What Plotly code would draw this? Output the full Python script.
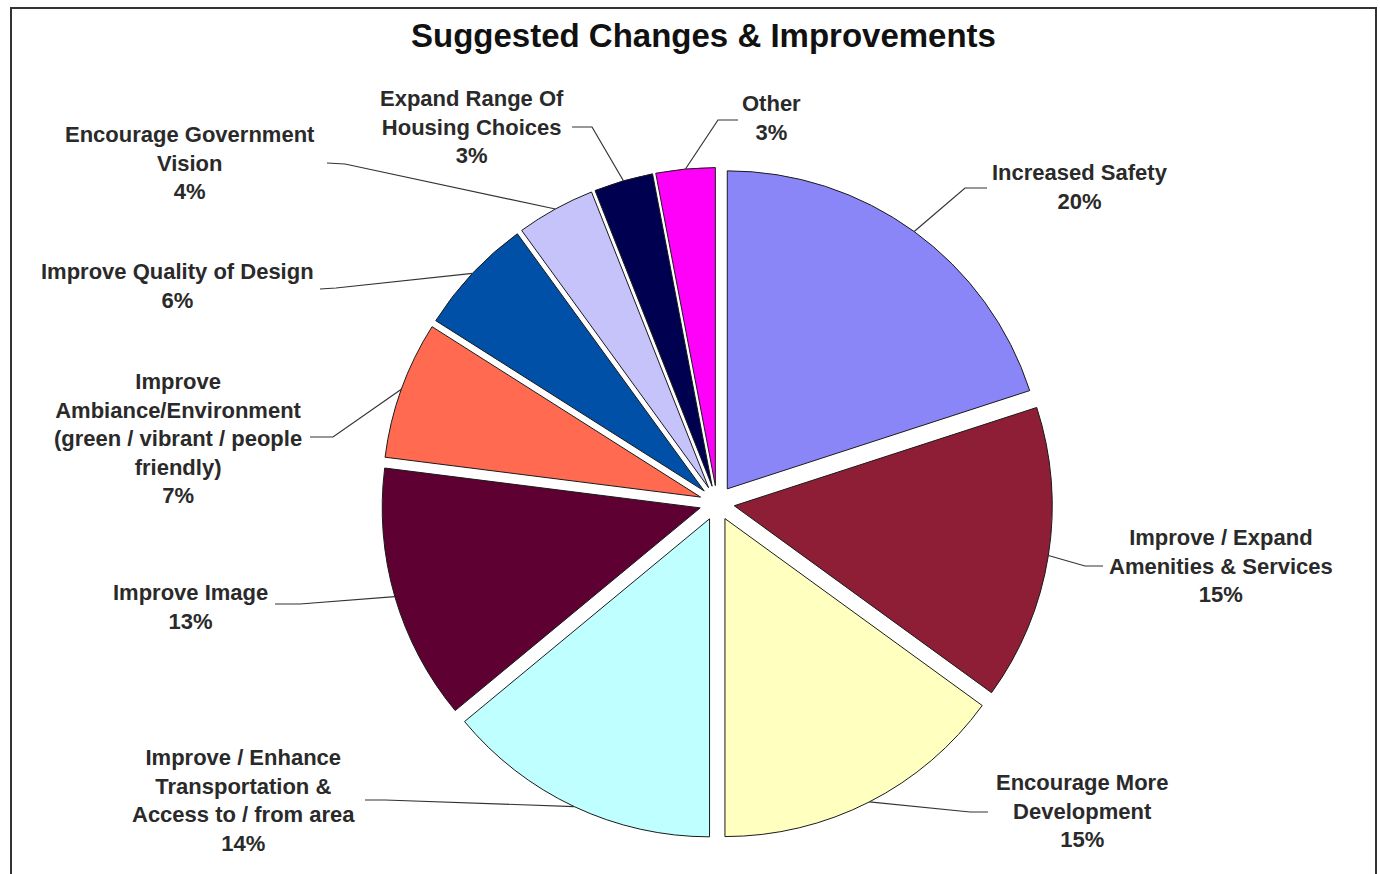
import math
import plotly.graph_objects as go

# Survey responses: suggested changes & improvements (percent of responses)
categories = [
    "Increased Safety",
    "Improve / Expand Amenities & Services",
    "Encourage More Development",
    "Improve / Enhance Transportation & Access to / from area",
    "Improve Image",
    "Improve Ambiance/Environment (green / vibrant / people friendly)",
    "Improve Quality of Design",
    "Encourage Government Vision",
    "Expand Range Of Housing Choices",
    "Other",
]
values = [20, 15, 15, 14, 13, 7, 6, 4, 3, 3]

# Wrapped label lines as printed next to each slice
label_lines = [
    ["Increased Safety"],
    ["Improve / Expand", "Amenities & Services"],
    ["Encourage More", "Development"],
    ["Improve / Enhance", "Transportation &", "Access to / from area"],
    ["Improve Image"],
    ["Improve", "Ambiance/Environment", "(green / vibrant / people", "friendly)"],
    ["Improve Quality of Design"],
    ["Encourage Government", "Vision"],
    ["Expand Range Of", "Housing Choices"],
    ["Other"],
]

colors = [
    "#8a86f8", "#8e1e36", "#ffffc0", "#c0ffff", "#5e0032",
    "#ff6a50", "#0050a8", "#c6c2fa", "#000050", "#ff00f8",
]

W, H = 1380, 874
PULL = 0.055

# Pie box in pixels (square), centre and radius follow plotly's pie scaling
box_l, box_r = 381.5, 1052.5
box_t, box_b = 167.5, 838.5
cx = (box_l + box_r) / 2
cy = (box_t + box_b) / 2
radius = (box_r - box_l) / (2 + 2 * PULL)

# Label placement: (centre x, centre y of text block, leader elbow, leader end at text)
label_layout = [
    (1080, 187, (965, 188), (987, 188)),
    (1221, 566, (1085, 566), (1103, 566)),
    (1082, 811, (970, 812), (988, 812)),
    (243, 800, (385, 800), (365, 800)),
    (190, 607, (300, 604), (275, 604)),
    (178, 438, (333, 437), (310, 437)),
    (177, 286, (336, 288), (320, 289)),
    (190, 163, (345, 164), (327, 163)),
    (472, 127, (592, 127), (572, 127)),
    (771, 118, (718, 120), (738, 120)),
]


def px(x):
    return x / W


def py(y):
    return 1 - y / H


fig = go.Figure(
    go.Pie(
        labels=categories,
        values=values,
        sort=False,
        direction="clockwise",
        rotation=0,
        pull=[PULL] * len(values),
        marker=dict(colors=colors, line=dict(color="#1a1a1a", width=1)),
        textinfo="none",
        hoverinfo="label+percent",
        showlegend=False,
        domain=dict(x=[px(box_l), px(box_r)], y=[py(box_b), py(box_t)]),
    )
)

total = sum(values)
annotations = []
shapes = []
cum = 0.0
for v, lines, (lx, ly, elbow, tip) in zip(values, label_lines, label_layout):
    mid = (cum + v / 2) / total * 2 * math.pi
    cum += v
    # point on the outer arc at the middle of the (pulled) slice
    reach = radius * (1 + PULL)
    sx = cx + reach * math.sin(mid)
    sy = cy - reach * math.cos(mid)
    shapes.append(dict(
        type="path", xref="paper", yref="paper",
        path=f"M {px(sx)},{py(sy)} L {px(elbow[0])},{py(elbow[1])} L {px(tip[0])},{py(tip[1])}",
        line=dict(color="#333333", width=1.2),
    ))
    text = "<br>".join(f"<b>{s}</b>" for s in lines + [f"{v}%"])
    annotations.append(dict(
        x=px(lx), y=py(ly), xref="paper", yref="paper",
        xanchor="center", yanchor="middle", align="center",
        text=text, showarrow=False,
        font=dict(family="Liberation Sans, Arial, sans-serif", size=22, color="#2a2a2a"),
    ))

# Title
annotations.append(dict(
    x=px(703), y=py(35), xref="paper", yref="paper",
    xanchor="center", yanchor="middle",
    text="<b>Suggested Changes & Improvements</b>", showarrow=False,
    font=dict(family="Liberation Sans, Arial, sans-serif", size=33, color="#111111"),
))

# Chart frame
shapes.append(dict(
    type="rect", xref="paper", yref="paper",
    x0=px(11), x1=px(1376), y0=-0.05, y1=py(8),
    line=dict(color="#333333", width=2), layer="below",
))

fig.update_layout(
    width=W, height=H,
    margin=dict(l=0, r=0, t=0, b=0),
    paper_bgcolor="white",
    plot_bgcolor="white",
    annotations=annotations,
    shapes=shapes,
)

fig.write_html("out.html")
